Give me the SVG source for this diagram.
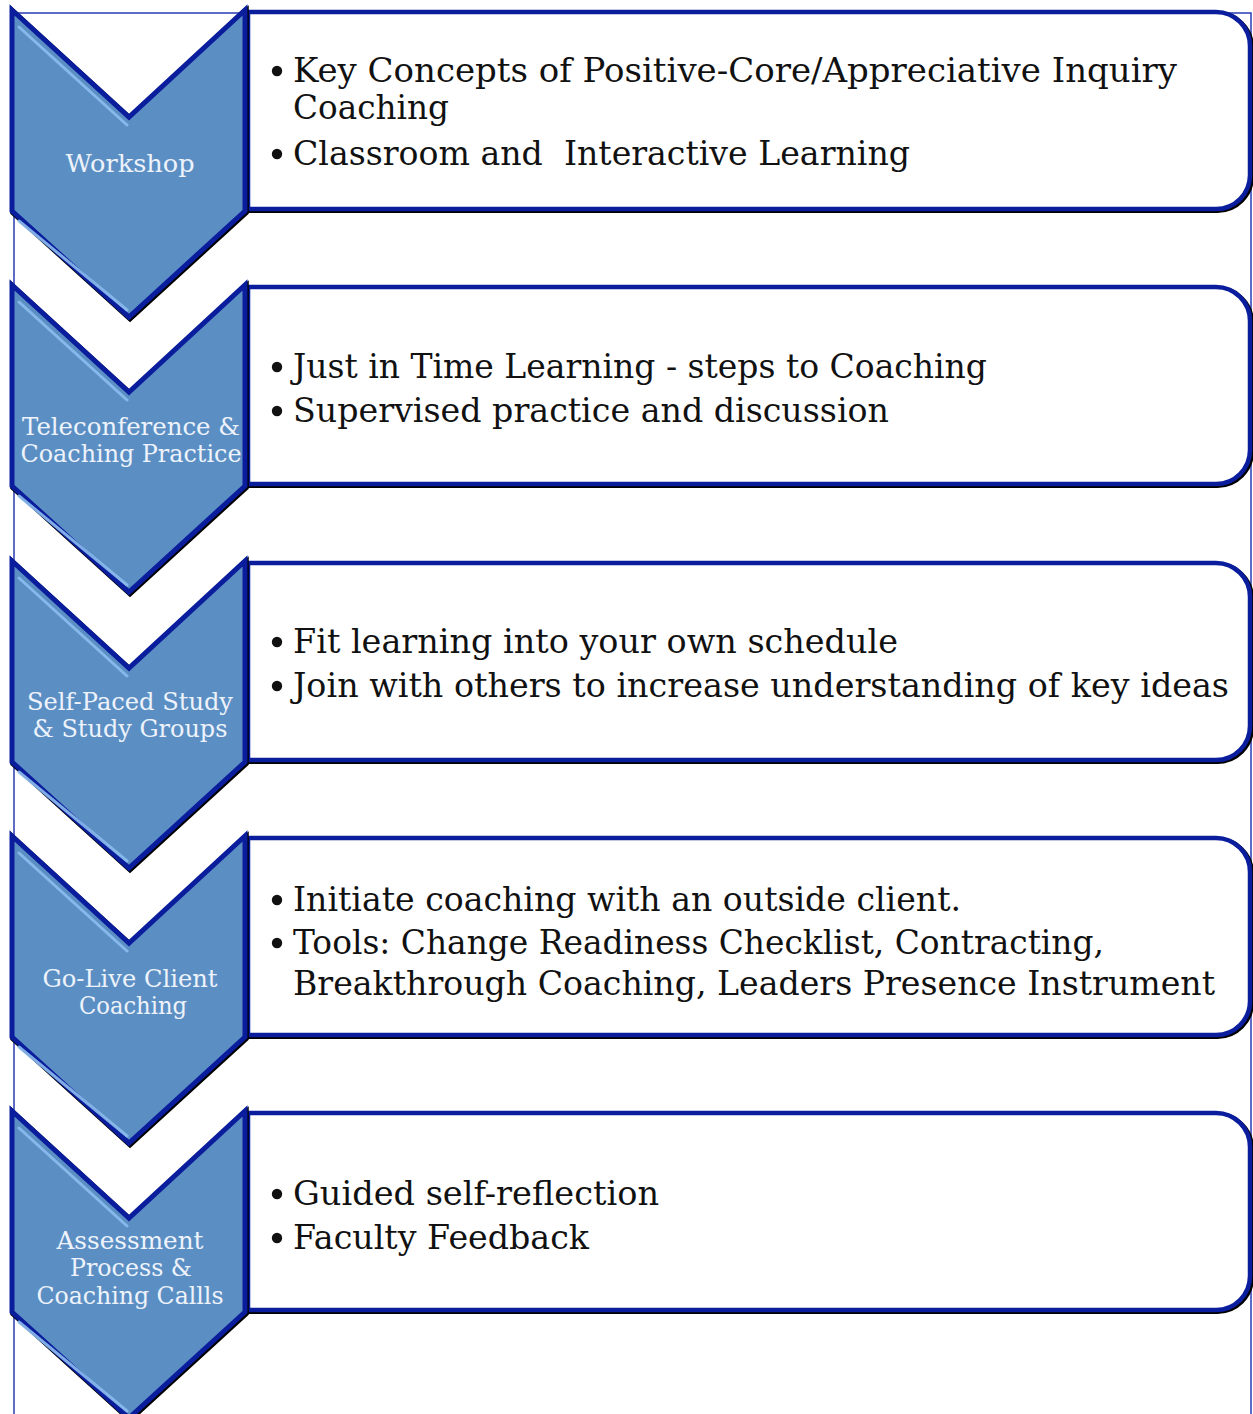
<svg xmlns="http://www.w3.org/2000/svg" xmlns:xlink="http://www.w3.org/1999/xlink" width="1253" height="1414" viewBox="0 0 1253 1414">
<style>
.frame{fill:none;stroke:#2b3db3;stroke-width:1.5}
.chev-sh{fill:none;stroke:#000;stroke-width:5.5;stroke-linejoin:miter}
.chev{fill:#5b8fc4;stroke:#0a1d9c;stroke-width:5;stroke-linejoin:miter}
.hl{fill:none;stroke:#8cbcee;stroke-width:3;stroke-linecap:round;opacity:0.9}
.box-sh{fill:none;stroke:#000;stroke-width:5}
.box{fill:#fff;stroke:#0a1d9c;stroke-width:4.5}
.lbl{font-family:"DejaVu Serif","Liberation Serif",serif;font-size:24px;fill:#eef3fb;text-anchor:middle}
.txt{font-family:"DejaVu Serif","Liberation Serif",serif;font-size:33px;fill:#111}
.bul{fill:#111}
</style>
<defs>
<path id="chevron" d="M12,0 L129,107 L245,0 L245,201 L129,307 L12,201 Z"/>
<path id="hilite" d="M19,17 L127,115 M19,211 L127,300"/>
<path id="rbox" d="M248,2 H1216 A34,34 0 0 1 1250,36 V165 A34,34 0 0 1 1216,199 H248 Z"/>
</defs>
<rect class="frame" x="14" y="13" width="1237" height="1420"/>

<g id="step1" transform="translate(0,10)">
<g id="box1"><use href="#rbox" class="box-sh" transform="translate(1.5,1.5)"/><use href="#rbox" class="box"/>
<circle class="bul" cx="277" cy="61" r="5.2"/><circle class="bul" cx="277" cy="144" r="5.2"/>
<text class="txt" x="293" y="72" textLength="884" lengthAdjust="spacingAndGlyphs">Key Concepts of Positive-Core/Appreciative Inquiry</text>
<text class="txt" x="293" y="109" textLength="156" lengthAdjust="spacingAndGlyphs">Coaching</text>
<text class="txt" x="293" y="155" xml:space="preserve" textLength="617" lengthAdjust="spacingAndGlyphs">Classroom and  Interactive Learning</text>
</g>
<g id="chev1"><use href="#chevron" class="chev-sh" transform="translate(1,1.5)"/><use href="#chevron" class="chev"/><use href="#hilite" class="hl"/>
<text class="lbl" x="130" y="162" textLength="129" lengthAdjust="spacingAndGlyphs">Workshop</text></g>
</g>

<g id="step2" transform="translate(0,285)">
<g id="box2"><use href="#rbox" class="box-sh" transform="translate(1.5,1.5)"/><use href="#rbox" class="box"/>
<circle class="bul" cx="277" cy="82" r="5.2"/><circle class="bul" cx="277" cy="126" r="5.2"/>
<text class="txt" x="293" y="93" textLength="694" lengthAdjust="spacingAndGlyphs">Just in Time Learning - steps to Coaching</text>
<text class="txt" x="293" y="137" textLength="596" lengthAdjust="spacingAndGlyphs">Supervised practice and discussion</text>
</g>
<g id="chev2"><use href="#chevron" class="chev-sh" transform="translate(1,1.5)"/><use href="#chevron" class="chev"/><use href="#hilite" class="hl"/>
<text class="lbl" x="131" y="150" textLength="218" lengthAdjust="spacingAndGlyphs">Teleconference &amp;</text>
<text class="lbl" x="131" y="177" textLength="221" lengthAdjust="spacingAndGlyphs">Coaching Practice</text></g>
</g>

<g id="step3" transform="translate(0,561)">
<g id="box3"><use href="#rbox" class="box-sh" transform="translate(1.5,1.5)"/><use href="#rbox" class="box"/>
<circle class="bul" cx="277" cy="81" r="5.2"/><circle class="bul" cx="277" cy="125" r="5.2"/>
<text class="txt" x="293" y="92" textLength="605" lengthAdjust="spacingAndGlyphs">Fit learning into your own schedule</text>
<text class="txt" x="293" y="136" textLength="936" lengthAdjust="spacingAndGlyphs">Join with others to increase understanding of key ideas</text>
</g>
<g id="chev3"><use href="#chevron" class="chev-sh" transform="translate(1,1.5)"/><use href="#chevron" class="chev"/><use href="#hilite" class="hl"/>
<text class="lbl" x="130" y="149" textLength="206" lengthAdjust="spacingAndGlyphs">Self-Paced Study</text>
<text class="lbl" x="130" y="176" textLength="195" lengthAdjust="spacingAndGlyphs">&amp; Study Groups</text></g>
</g>

<g id="step4" transform="translate(0,836)">
<g id="box4"><use href="#rbox" class="box-sh" transform="translate(1.5,1.5)"/><use href="#rbox" class="box"/>
<circle class="bul" cx="277" cy="64" r="5.2"/><circle class="bul" cx="277" cy="107" r="5.2"/>
<text class="txt" x="293" y="75" textLength="668" lengthAdjust="spacingAndGlyphs">Initiate coaching with an outside client.</text>
<text class="txt" x="293" y="118" textLength="811" lengthAdjust="spacingAndGlyphs">Tools: Change Readiness Checklist, Contracting,</text>
<text class="txt" x="293" y="159" textLength="922" lengthAdjust="spacingAndGlyphs">Breakthrough Coaching, Leaders Presence Instrument</text>
</g>
<g id="chev4"><use href="#chevron" class="chev-sh" transform="translate(1,1.5)"/><use href="#chevron" class="chev"/><use href="#hilite" class="hl"/>
<text class="lbl" x="130" y="151" textLength="175" lengthAdjust="spacingAndGlyphs">Go-Live Client</text>
<text class="lbl" x="133" y="178" textLength="108" lengthAdjust="spacingAndGlyphs">Coaching</text></g>
</g>

<g id="step5" transform="translate(0,1111)">
<g id="box5"><use href="#rbox" class="box-sh" transform="translate(1.5,1.5)"/><use href="#rbox" class="box"/>
<circle class="bul" cx="277" cy="83" r="5.2"/><circle class="bul" cx="277" cy="127" r="5.2"/>
<text class="txt" x="293" y="94" textLength="366" lengthAdjust="spacingAndGlyphs">Guided self-reflection</text>
<text class="txt" x="293" y="138" textLength="296" lengthAdjust="spacingAndGlyphs">Faculty Feedback</text>
</g>
<g id="chev5"><use href="#chevron" class="chev-sh" transform="translate(1,1.5)"/><use href="#chevron" class="chev"/><use href="#hilite" class="hl"/>
<text class="lbl" x="130" y="138" textLength="147" lengthAdjust="spacingAndGlyphs">Assessment</text>
<text class="lbl" x="131" y="165" textLength="122" lengthAdjust="spacingAndGlyphs">Process &amp;</text>
<text class="lbl" x="130" y="193" textLength="187" lengthAdjust="spacingAndGlyphs">Coaching Callls</text></g>
</g>
</svg>
